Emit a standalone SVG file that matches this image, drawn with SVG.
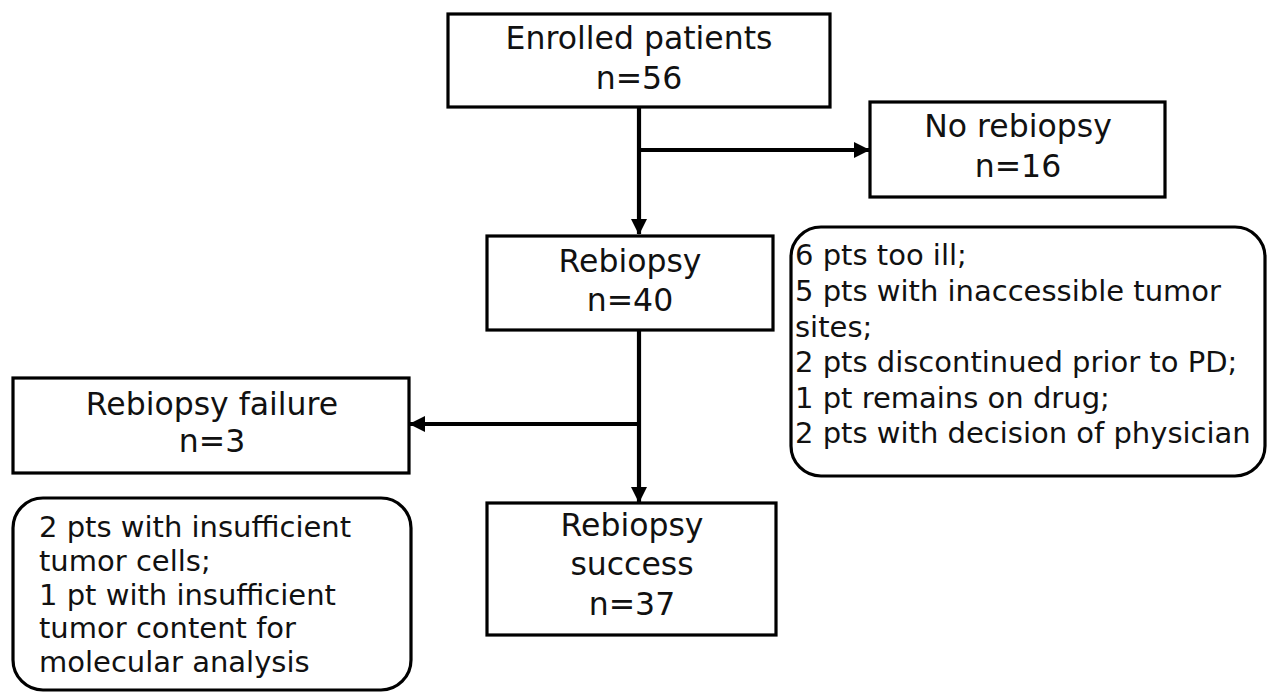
<svg xmlns="http://www.w3.org/2000/svg" width="1268" height="694" viewBox="0 0 1268 694">
<style>
.box{fill:#fff;stroke:#000;stroke-width:3.2}
.rbox{fill:#fff;stroke:#000;stroke-width:3.2}
.t{font-family:"DejaVu Sans",sans-serif;font-size:31.5px;fill:#111;text-anchor:middle}
.d{font-family:"DejaVu Sans",sans-serif;font-size:29px;fill:#111}
.c{fill:none;stroke:#000;stroke-width:4.2}
</style>
<defs>
<marker id="ah" markerUnits="userSpaceOnUse" markerWidth="16" markerHeight="16" refX="15" refY="8" orient="auto">
<path d="M0,0 L16,8 L0,16 Z" fill="#000"/>
</marker>
</defs>
<rect width="1268" height="694" fill="#fff"/>
<g id="connectors">
<path class="c" d="M639,107 V234" marker-end="url(#ah)"/>
<path class="c" d="M639,150 H869" marker-end="url(#ah)"/>
<path class="c" d="M639,330 V502" marker-end="url(#ah)"/>
<path class="c" d="M639,424 H410" marker-end="url(#ah)"/>
</g>
<g id="enrolled">
<rect class="box" x="448" y="14" width="382" height="93"/>
<text class="t" x="639" y="49">Enrolled patients</text>
<text class="t" x="639" y="89">n=56</text>
</g>
<g id="no-rebiopsy">
<rect class="box" x="870" y="102" width="295" height="95"/>
<text class="t" x="1018" y="137">No rebiopsy</text>
<text class="t" x="1018" y="177">n=16</text>
</g>
<g id="rebiopsy">
<rect class="box" x="487" y="236" width="286" height="94"/>
<text class="t" x="630" y="272">Rebiopsy</text>
<text class="t" x="630" y="311">n=40</text>
</g>
<g id="no-rebiopsy-reasons">
<rect class="rbox" x="791" y="227" width="474" height="249" rx="30" ry="30"/>
<text class="d" x="795" y="265">6 pts too ill;</text>
<text class="d" x="795" y="301">5 pts with inaccessible tumor</text>
<text class="d" x="795" y="337">sites;</text>
<text class="d" x="795" y="372">2 pts discontinued prior to PD;</text>
<text class="d" x="795" y="408">1 pt remains on drug;</text>
<text class="d" x="795" y="443">2 pts with decision of physician</text>
</g>
<g id="failure">
<rect class="box" x="13" y="378" width="396" height="95"/>
<text class="t" x="212" y="415">Rebiopsy failure</text>
<text class="t" x="212" y="452">n=3</text>
</g>
<g id="failure-reasons">
<rect class="rbox" x="13" y="498" width="398" height="192" rx="30" ry="30"/>
<text class="d" x="39" y="537">2 pts with insufficient</text>
<text class="d" x="39" y="571">tumor cells;</text>
<text class="d" x="39" y="605">1 pt with insufficient</text>
<text class="d" x="39" y="638">tumor content for</text>
<text class="d" x="39" y="672">molecular analysis</text>
</g>
<g id="success">
<rect class="box" x="487" y="503" width="289" height="132"/>
<text class="t" x="632" y="536">Rebiopsy</text>
<text class="t" x="632" y="575">success</text>
<text class="t" x="632" y="615">n=37</text>
</g>
</svg>
